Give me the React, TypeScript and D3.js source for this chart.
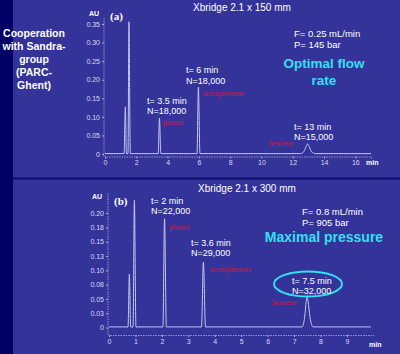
import React, { useRef, useEffect } from 'react';
import * as d3 from 'd3';

const W = 400;
const H = 354;

// panel (a) : Xbridge 2.1 x 150 mm, retention time (min) / absorbance (AU)
const timesA = [0, 1.22, 1.3, 1.37, 1.47, 1.53, 1.62, 3.4, 3.48, 3.57, 5.88, 5.97, 6.07, 12.45, 12.7, 12.85, 12.95, 13.05, 13.2, 13.45, 17];
const signalA = [0.001, 0.001, 0.127, 0.001, 0.001, 0.356, 0.001, 0.001, 0.097, 0.001, 0.001, 0.18, 0.001, 0.001, 0.006, 0.02, 0.027, 0.02, 0.006, 0.001, 0.001];
const xTicksA = [0, 2, 4, 6, 8, 10, 12, 14, 16];
const yTicksA = [0, 0.05, 0.1, 0.15, 0.2, 0.25, 0.3, 0.35];
const yLabelsA = ['0', '0.05', '0.10', '0.15', '0.20', '0.25', '0.30', '0.35'];

// panel (b) : Xbridge 2.1 x 300 mm
const timesB = [0, 0.72, 0.77, 0.82, 0.91, 0.96, 1.02, 2.04, 2.1, 2.17, 3.5, 3.57, 3.65, 7.3, 7.4, 7.46, 7.49, 7.53, 7.6, 7.72, 9.9];
const signalB = [0.001, 0.001, 0.093, 0.001, 0.001, 0.222, 0.001, 0.001, 0.19, 0.001, 0.001, 0.114, 0.001, 0.001, 0.018, 0.046, 0.053, 0.046, 0.018, 0.001, 0.001];
const xTicksB = [0, 1, 2, 3, 4, 5, 6, 7, 8, 9];
const yTicksB = [0, 0.025, 0.05, 0.075, 0.1, 0.125, 0.15, 0.175, 0.2];
const yLabelsB = ['0', '0.03', '0.05', '0.08', '0.10', '0.13', '0.15', '0.18', '0.20'];

const BG = '#33339a';
const DARK = '#000066';
const TRACE = '#c4c6ee';
const AXIS = '#a9acdc';
const CYAN = '#33e0f0';
const RED = '#d01a3a';
const SANS = 'Liberation Sans, Arial, sans-serif';
const SERIF = 'Liberation Serif, Times New Roman, serif';

type Sel = d3.Selection<SVGGElement, unknown, null, undefined>;

function drawPanel(
  g: Sel,
  times: number[],
  signal: number[],
  x: d3.ScaleLinear<number, number>,
  y: d3.ScaleLinear<number, number>,
  xTicks: number[],
  yTicks: number[],
  yLabels: string[],
  axisY: number,
  axisTop: number
) {
  // y axis
  const yAxis = g
    .append('g')
    .attr('transform', `translate(${x.range()[0] - 1},0)`)
    .call(
      d3
        .axisLeft(y)
        .tickValues(yTicks)
        .tickFormat((_, i) => yLabels[i])
        .tickSize(2)
        .tickPadding(2)
    );
  yAxis.select('.domain').remove();
  yAxis
    .append('line')
    .attr('y1', axisY)
    .attr('y2', axisTop)
    .attr('stroke', AXIS)
    .attr('stroke-width', 0.8)
    .attr('stroke-dasharray', '1.5,1');
  yAxis.selectAll('line').attr('stroke', AXIS);
  yAxis.selectAll('text').attr('fill', '#d8daf4').style('font-size', '7px').style('font-family', SANS);

  // x axis
  const xAxis = g
    .append('g')
    .attr('transform', `translate(0,${axisY})`)
    .call(d3.axisBottom(x).tickValues(xTicks).tickFormat(d3.format('d')).tickSize(2).tickPadding(2));
  xAxis.select('.domain').attr('stroke', AXIS).attr('stroke-width', 0.8).attr('stroke-dasharray', '1.5,1');
  xAxis.selectAll('line').attr('stroke', AXIS);
  xAxis.selectAll('text').attr('fill', '#d8daf4').style('font-size', '7px').style('font-family', SANS);

  // chromatogram trace
  const pts = times.map((t, i) => [t, signal[i]] as [number, number]);
  const line = d3
    .line<[number, number]>()
    .x((d) => x(d[0]))
    .y((d) => y(d[1]))
    .curve(d3.curveMonotoneX);
  g.append('path')
    .datum(pts)
    .attr('d', line)
    .attr('fill', 'none')
    .attr('stroke', TRACE)
    .attr('stroke-width', 1);
}

function addText(
  g: Sel,
  lines: string[],
  px: number,
  py: number,
  opts: { size: number; fill: string; weight?: string; family?: string; anchor?: string; lh?: number }
) {
  const t = g
    .append('text')
    .attr('x', px)
    .attr('y', py)
    .attr('fill', opts.fill)
    .attr('text-anchor', opts.anchor || 'start')
    .style('font-size', `${opts.size}px`)
    .style('font-weight', opts.weight || 'normal')
    .style('font-family', opts.family || SANS);
  lines.forEach((l, i) => {
    t.append('tspan')
      .attr('x', px)
      .attr('dy', i === 0 ? 0 : opts.lh || opts.size * 1.1)
      .text(l);
  });
}

export default function App() {
  const svgRef = useRef<SVGSVGElement>(null);

  useEffect(() => {
    if (!svgRef.current) return;
    const svg = d3.select(svgRef.current);
    svg.selectAll('*').remove();

    svg.append('rect').attr('width', W).attr('height', H).attr('fill', BG);
    svg.append('rect').attr('width', 13).attr('height', H).attr('fill', DARK);
    svg.append('rect').attr('x', 13).attr('y', 177).attr('width', W - 13).attr('height', 3).attr('fill', '#16167c');

    const root = svg.append('g') as unknown as Sel;

    // ---- panel (a)
    const xA = d3.scaleLinear().domain([0, 17]).range([105, 371]);
    const yA = d3.scaleLinear().domain([0, 0.35]).range([154, 24]);
    drawPanel(root, timesA, signalA, xA, yA, xTicksA, yTicksA, yLabelsA, 156.5, 18);

    addText(root, ['Cooperation', 'with Sandra-', 'group', '(PARC-', 'Ghent)'], 34, 37, {
      size: 10.5,
      fill: '#ffffff',
      weight: 'bold',
      anchor: 'middle',
      lh: 13,
    });
    addText(root, ['AU'], 89, 16, { size: 7, fill: '#ffffff', weight: 'bold' });
    addText(root, ['(a)'], 110, 20, { size: 11, fill: '#ffffff', weight: 'bold', family: SERIF });
    addText(root, ['Xbridge 2.1 x 150 mm'], 193, 11, { size: 10, fill: '#ffffff' });
    addText(root, ['F= 0.25 mL/min', 'P= 145 bar'], 294, 37, { size: 9.5, fill: '#ffffff', lh: 11 });
    addText(root, ['Optimal flow', 'rate'], 324, 68, { size: 13.5, fill: CYAN, weight: 'bold', anchor: 'middle', lh: 17 });
    addText(root, ['t= 6 min', 'N=18,000'], 186, 73, { size: 9, fill: '#ffffff', lh: 11 });
    addText(root, ['t= 3.5 min', 'N=18,000'], 147, 104, { size: 9, fill: '#ffffff', lh: 10 });
    addText(root, ['t= 13 min', 'N=15,000'], 294, 130, { size: 9, fill: '#ffffff', lh: 10 });
    addText(root, ['phenol'], 163, 125, { size: 7.5, fill: RED, family: SERIF });
    addText(root, ['acetophenone'], 203, 96, { size: 7.5, fill: RED, family: SERIF });
    addText(root, ['benzene'], 269, 146, { size: 7.5, fill: RED, family: SERIF });
    addText(root, ['min'], 366, 165, { size: 7, fill: '#ffffff', weight: 'bold' });

    // ---- panel (b)
    const xB = d3.scaleLinear().domain([0, 10]).range([109, 373.4]);
    const yB = d3.scaleLinear().domain([0, 0.2]).range([327.5, 213]);
    drawPanel(root, timesB, signalB, xB, yB, xTicksB, yTicksB, yLabelsB, 335, 193);

    addText(root, ['AU'], 92, 199, { size: 7, fill: '#ffffff', weight: 'bold' });
    addText(root, ['(b)'], 114, 205, { size: 11, fill: '#ffffff', weight: 'bold', family: SERIF });
    addText(root, ['Xbridge 2.1 x 300 mm'], 198, 192, { size: 10, fill: '#ffffff' });
    addText(root, ['t= 2 min', 'N=22,000'], 151, 204, { size: 9, fill: '#ffffff', lh: 10 });
    addText(root, ['phenol'], 169, 230, { size: 7.5, fill: RED, family: SERIF });
    addText(root, ['t= 3.6 min', 'N=29,000'], 191, 246, { size: 9, fill: '#ffffff', lh: 10 });
    addText(root, ['acetophenone'], 210, 272, { size: 7.5, fill: RED, family: SERIF });
    addText(root, ['F= 0.8 mL/min', 'P= 905 bar'], 302, 215, { size: 9.5, fill: '#ffffff', lh: 11 });
    addText(root, ['Maximal pressure'], 324, 242, { size: 14, fill: CYAN, weight: 'bold', anchor: 'middle' });
    root
      .append('ellipse')
      .attr('cx', 308)
      .attr('cy', 284)
      .attr('rx', 34)
      .attr('ry', 12.5)
      .attr('fill', 'none')
      .attr('stroke', CYAN)
      .attr('stroke-width', 2);
    addText(root, ['t= 7.5 min', 'N=32,000'], 292, 284, { size: 9, fill: '#ffffff', lh: 9.5 });
    addText(root, ['benzene'], 272, 305, { size: 7.5, fill: RED, family: SERIF });
    addText(root, ['min'], 369, 347, { size: 7, fill: '#ffffff', weight: 'bold' });
  }, []);

  return (
    <svg
      ref={svgRef}
      width={W}
      height={H}
      style={{ position: 'absolute', left: 0, top: 0, display: 'block' }}
    />
  );
}
